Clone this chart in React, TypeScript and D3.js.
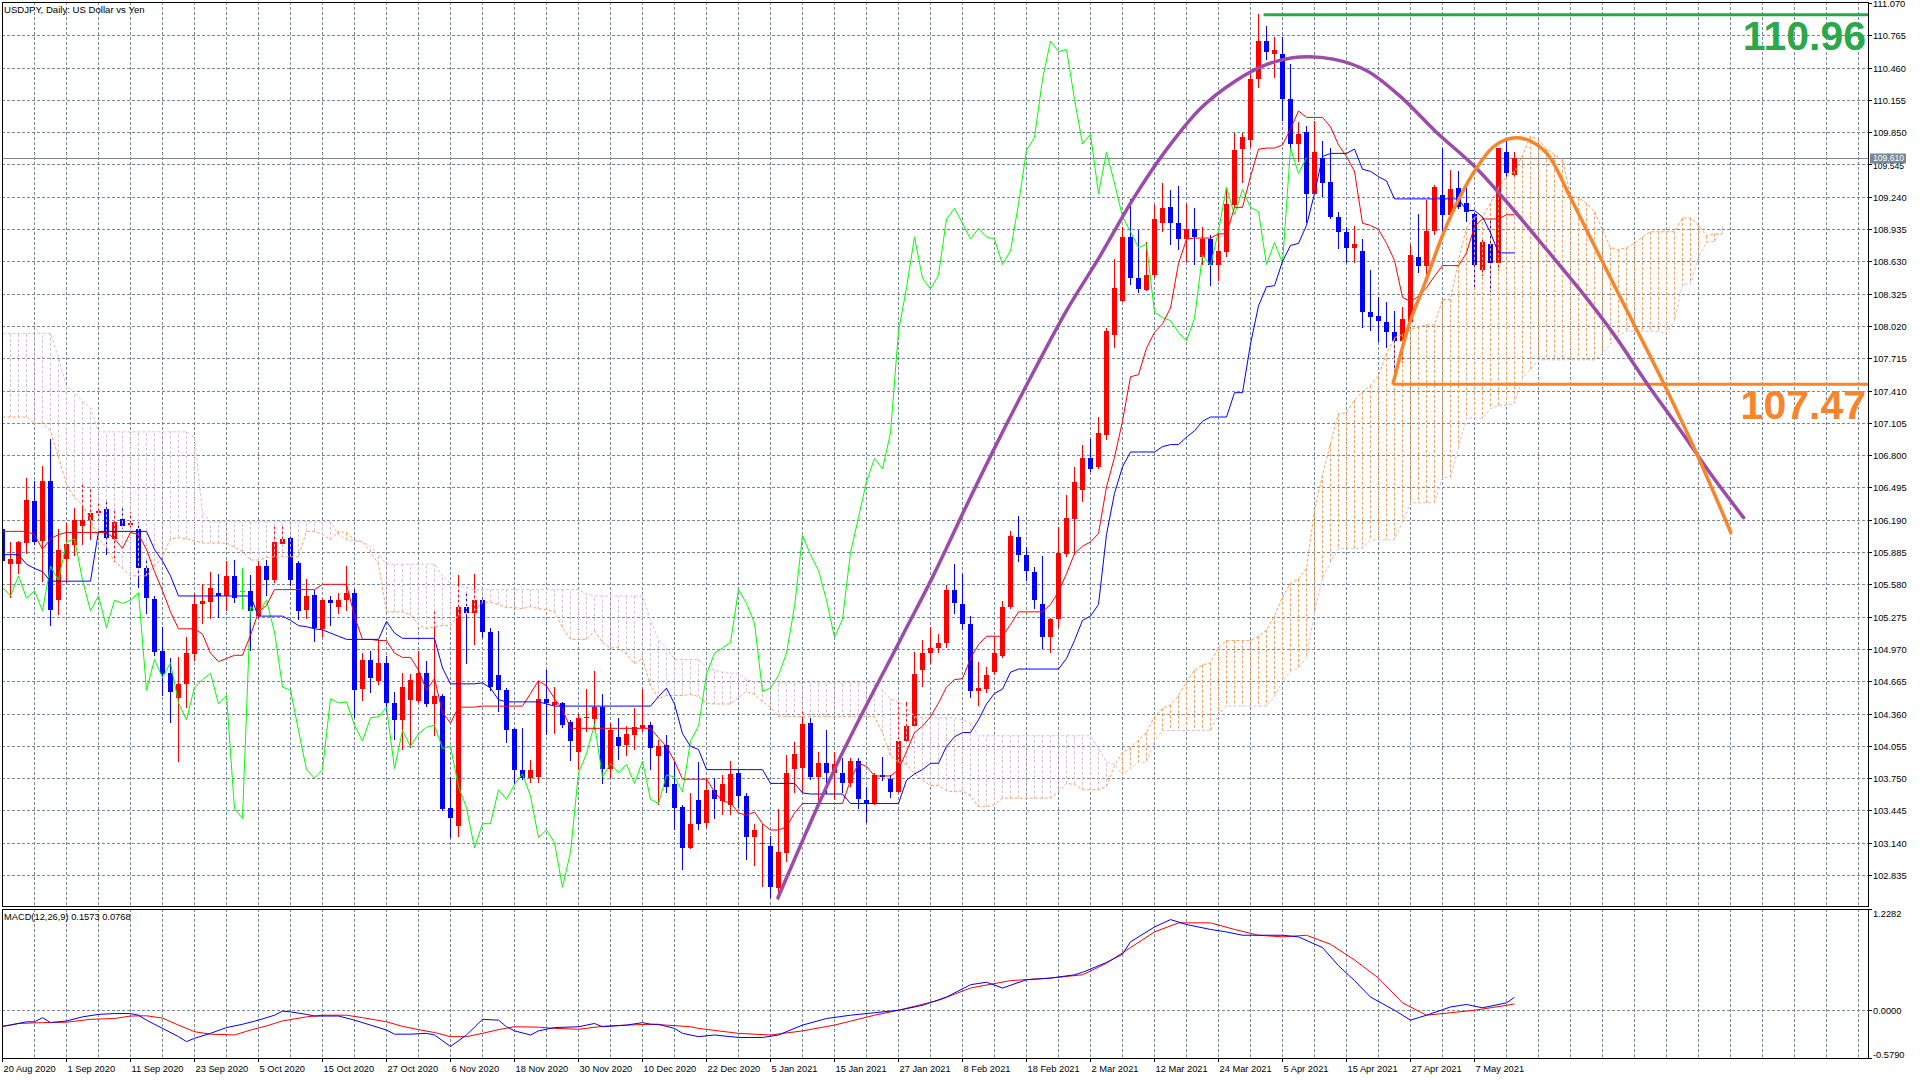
import React from 'react';
import * as d3 from 'd3';

// ---------- candles (daily USDJPY, bar 0 = 20 Aug 2020) ----------
const openP = [
  106.10,105.77,105.77,105.97,106.37,105.99,106.56,105.43,105.82,105.95,
  106.13,106.19,106.25,106.29,106.01,106.20,106.14,106.10,105.73,105.44,
  104.95,104.74,104.51,104.64,104.92,105.39,105.41,105.50,105.47,105.66,
  105.52,105.52,105.28,105.75,105.62,105.96,106.02,105.78,105.34,105.48,
  105.16,105.43,105.37,105.43,105.50,104.59,104.87,104.67,104.84,104.46,
  104.30,104.49,104.48,104.74,104.45,104.53,103.47,103.30,105.37,105.31,
  105.43,105.13,104.72,104.58,104.21,103.83,103.75,103.76,104.50,104.44,
  104.46,104.28,104.00,104.32,104.31,104.42,103.84,104.14,104.06,104.16,
  104.22,104.25,103.96,104.06,103.69,103.48,103.09,103.54,103.33,103.64,
  103.53,103.50,103.80,103.58,103.19,103.13,103.11,102.71,103.04,103.84,
  103.85,104.27,103.76,103.89,103.80,103.80,103.70,103.91,103.54,103.51,
  103.78,103.74,103.62,104.10,104.24,104.77,104.93,104.98,105.03,105.53,
  105.39,105.21,104.57,104.59,104.75,104.90,105.37,106.03,105.86,105.70,
  105.39,105.08,105.25,105.87,106.20,106.47,106.77,106.69,106.99,107.93,
  108.26,108.86,108.47,108.36,108.50,108.99,109.14,108.99,108.84,108.94,
  108.67,108.84,108.60,108.72,109.16,109.69,109.78,110.35,110.71,110.59,
  110.59,110.16,109.74,109.85,109.27,109.61,109.38,109.05,108.91,108.76,
  108.73,108.15,108.11,108.06,107.96,107.88,108.06,108.67,108.59,108.92,
  109.26,109.07,109.32,109.18,109.08,108.55,108.79,108.61,109.66,109.45,
];
const highP = [
  106.17,105.98,105.99,106.58,106.56,106.70,106.95,106.10,106.16,106.30,
  106.53,106.49,106.36,106.39,106.27,106.31,106.26,106.17,105.82,105.47,
  105.18,104.88,104.89,105.08,105.49,105.58,105.70,105.68,105.80,105.81,
  105.73,105.67,105.80,105.81,106.14,106.14,106.05,105.80,105.63,105.53,
  105.44,105.47,105.50,105.75,105.54,104.93,104.95,105.05,104.90,104.56,
  104.74,104.73,104.95,104.86,105.33,104.54,103.76,105.67,105.51,105.68,
  105.45,105.17,105.14,104.60,104.22,104.22,103.92,104.66,104.77,104.61,
  104.47,104.30,104.36,104.59,104.76,104.54,104.27,104.32,104.24,104.41,
  104.59,104.28,104.11,104.16,103.91,103.50,103.61,103.90,103.75,103.75,
  103.78,103.91,103.83,103.61,103.32,103.32,103.20,103.46,103.97,104.09,
  104.39,104.32,104.00,104.20,104.00,103.94,103.94,103.94,103.67,103.80,
  103.95,103.78,104.47,104.47,104.94,105.05,105.18,105.11,105.57,105.77,
  105.68,105.28,104.85,104.80,105.09,105.42,106.08,106.23,105.93,105.74,
  105.85,105.26,106.12,106.42,106.69,106.90,106.95,107.16,108.00,108.65,
  108.95,109.22,108.93,108.81,109.16,109.37,109.30,109.34,109.17,109.13,
  108.95,108.88,108.89,109.32,109.84,109.84,110.41,110.97,110.85,110.75,
  110.75,110.49,109.95,109.91,109.96,109.77,109.70,109.10,108.95,108.96,
  108.84,108.55,108.29,108.25,108.16,108.20,108.78,109.08,109.21,109.35,
  109.70,109.49,109.48,109.34,109.09,108.83,109.02,109.70,109.79,109.66,
];
const lowP = [
  105.74,105.45,105.68,105.87,105.95,105.60,105.19,105.29,105.59,105.85,
  105.95,106.00,106.19,105.86,105.79,106.10,106.12,105.55,105.30,104.90,
  104.53,104.27,103.90,104.41,104.86,105.21,105.25,105.26,105.33,105.40,
  105.35,104.95,105.26,105.47,105.59,105.93,105.56,105.24,105.25,105.04,
  105.08,105.19,105.30,105.33,104.32,104.48,104.55,104.63,104.37,104.11,
  104.02,104.03,104.46,104.42,104.15,103.44,103.18,103.19,104.83,105.01,
  105.07,104.57,104.37,104.08,103.69,103.73,103.70,103.70,104.16,104.17,
  104.22,103.91,103.83,104.19,104.20,103.69,103.75,103.92,103.96,104.02,
  104.19,103.83,103.50,103.61,103.26,102.88,103.08,103.26,103.28,103.36,
  103.40,103.40,103.47,102.98,102.92,102.72,102.62,102.60,102.96,103.61,
  103.61,103.73,103.53,103.60,103.54,103.61,103.67,103.46,103.33,103.50,
  103.72,103.56,103.61,104.09,104.24,104.61,104.83,104.93,104.98,105.30,
  105.15,104.51,104.43,104.55,104.72,104.88,105.35,105.79,105.61,105.35,
  104.97,104.93,105.17,105.84,105.86,106.36,106.64,106.67,106.94,107.81,
  108.25,108.41,108.33,108.35,108.47,108.91,108.78,108.74,108.62,108.60,
  108.60,108.40,108.44,108.67,109.14,109.37,109.71,110.27,110.53,110.36,
  109.96,109.69,109.57,108.99,109.27,109.24,109.03,108.75,108.61,108.61,
  108.00,107.97,107.87,107.81,107.47,107.67,108.05,108.52,108.45,108.88,
  108.90,109.04,109.12,109.00,108.36,108.49,108.34,108.54,109.41,109.42,
];
const closeP = [
  105.80,105.82,105.98,106.38,105.98,106.56,105.34,105.90,105.96,106.19,
  106.19,106.25,106.27,106.02,106.17,106.13,106.16,105.73,105.45,104.94,
  104.73,104.56,104.64,104.93,105.39,105.42,105.55,105.47,105.66,105.45,
  105.52,105.33,105.75,105.62,105.98,106.01,105.62,105.33,105.47,105.17,
  105.43,105.40,105.43,105.50,104.58,104.87,104.70,104.84,104.46,104.30,
  104.61,104.68,104.74,104.45,104.53,103.46,103.37,105.37,105.31,105.43,
  105.13,104.61,104.58,104.20,103.83,103.75,103.83,104.50,104.46,104.47,
  104.25,104.10,104.32,104.33,104.42,103.84,104.20,104.05,104.17,104.23,
  104.25,104.03,104.05,103.67,103.47,103.09,103.32,103.32,103.64,103.55,
  103.69,103.79,103.58,103.19,103.26,103.14,102.72,103.05,103.80,103.98,
  104.26,103.76,103.89,103.80,103.88,103.70,103.91,103.55,103.51,103.78,
  103.76,103.62,104.10,104.24,104.73,104.93,104.98,105.03,105.53,105.40,
  105.21,104.57,104.60,104.72,104.93,105.37,106.04,105.86,105.71,105.43,
  105.08,105.25,105.88,106.21,106.55,106.77,106.67,107.01,107.97,108.38,
  108.86,108.47,108.37,108.50,109.03,109.13,108.99,108.84,108.94,108.86,
  108.84,108.60,108.73,109.17,109.68,109.80,110.35,110.71,110.61,110.63,
  110.16,109.74,109.83,109.27,109.66,109.37,109.05,108.91,108.76,108.79,
  108.15,108.10,108.07,107.96,107.88,108.09,108.69,108.59,108.92,109.33,
  109.07,109.31,109.14,109.10,108.60,108.81,108.61,109.70,109.46,109.61,
];

// ---------- Ichimoku lines ----------
const tenkan = [
  106.08,106.08,106.08,106.08,106.05,105.91,106.01,106.05,106.07,106.07,
  106.07,106.07,106.07,106.07,106.01,105.92,106.07,106.05,105.91,105.70,
  105.52,105.32,105.16,105.16,105.16,105.11,104.93,104.85,104.88,104.91,
  104.91,105.10,105.32,105.38,105.53,105.53,105.53,105.53,105.53,105.53,
  105.58,105.58,105.58,105.58,105.28,105.06,105.06,105.05,105.05,104.93,
  104.89,104.89,104.77,104.58,104.69,104.37,104.27,104.42,104.42,104.42,
  104.43,104.43,104.43,104.43,104.43,104.43,104.55,104.67,104.62,104.50,
  104.40,104.22,104.22,104.22,104.22,104.22,104.22,104.22,104.22,104.22,
  104.22,104.22,104.13,104.05,103.91,103.74,103.74,103.74,103.74,103.62,
  103.53,103.52,103.42,103.40,103.43,103.32,103.26,103.26,103.29,103.42,
  103.51,103.51,103.51,103.51,103.51,103.51,103.73,103.89,103.86,103.77,
  103.77,103.77,103.83,104.00,104.18,104.24,104.33,104.46,104.61,104.68,
  104.69,104.88,105.01,105.09,105.09,105.09,105.20,105.32,105.32,105.32,
  105.32,105.39,105.51,105.68,105.87,105.94,105.98,106.06,106.50,106.78,
  107.12,107.54,107.56,107.81,107.96,108.04,108.19,108.61,108.84,108.85,
  108.85,108.85,108.89,108.89,109.14,109.14,109.43,109.69,109.70,109.70,
  109.73,109.88,110.05,109.99,109.99,109.99,109.90,109.73,109.62,109.48,
  108.99,108.97,108.93,108.80,108.64,108.29,108.25,108.30,108.38,108.49,
  108.59,108.59,108.59,108.71,108.96,109.03,109.03,109.03,109.07,109.07,
];
const kijun = [
  105.86,105.86,105.86,105.77,105.73,105.70,105.61,105.61,105.61,105.61,
  105.61,105.61,106.08,106.08,106.08,106.08,106.08,106.08,106.08,105.91,
  105.80,105.66,105.47,105.47,105.47,105.47,105.47,105.47,105.47,105.47,
  105.47,105.47,105.28,105.28,105.28,105.28,105.24,105.19,105.18,105.16,
  105.15,105.12,105.09,105.06,105.06,105.06,105.06,105.06,105.23,105.12,
  105.07,105.07,105.07,105.07,105.07,104.79,104.64,104.64,104.64,104.64,
  104.65,104.60,104.49,104.47,104.47,104.47,104.47,104.47,104.45,104.43,
  104.43,104.43,104.43,104.43,104.43,104.43,104.43,104.43,104.43,104.43,
  104.43,104.43,104.52,104.60,104.45,104.17,104.05,104.02,103.83,103.83,
  103.83,103.83,103.83,103.83,103.83,103.83,103.70,103.70,103.70,103.70,
  103.61,103.60,103.60,103.60,103.60,103.60,103.51,103.51,103.51,103.51,
  103.51,103.51,103.51,103.73,103.79,103.83,103.89,103.89,104.05,104.14,
  104.18,104.18,104.30,104.45,104.55,104.59,104.75,104.78,104.78,104.78,
  104.78,104.78,104.78,104.88,105.05,105.24,105.28,105.39,106.05,106.44,
  106.69,106.83,106.83,106.83,106.83,106.88,106.90,106.90,106.97,107.03,
  107.12,107.16,107.16,107.16,107.39,107.39,107.85,108.21,108.39,108.40,
  108.63,108.78,108.80,108.97,109.27,109.62,109.65,109.65,109.65,109.69,
  109.50,109.48,109.43,109.39,109.22,109.22,109.22,109.22,109.22,109.22,
  109.22,109.22,109.22,109.11,109.11,109.05,108.90,108.71,108.71,108.71,
];
// Senkou spans as plotted (already displaced 26 bars forward, 216 positions)
const spanA = [
  107.16,107.16,107.16,107.16,107.10,107.10,107.03,106.78,106.52,106.40,
  106.33,106.19,106.01,105.93,105.80,105.73,105.66,105.66,105.66,105.75,
  105.84,106.01,106.02,106.01,105.99,105.97,105.97,105.97,105.97,105.93,
  105.89,105.81,105.81,105.83,105.84,105.84,105.84,105.84,106.08,106.08,
  106.05,106.00,106.08,106.07,106.00,105.98,105.89,105.77,105.32,105.32,
  105.32,105.29,105.20,105.16,105.18,105.19,105.19,105.29,105.30,105.33,
  105.41,105.41,105.39,105.36,105.36,105.35,105.37,105.35,105.34,105.32,
  105.17,105.06,105.06,105.06,105.14,105.03,104.98,104.98,104.92,104.83,
  104.88,104.62,104.50,104.53,104.53,104.53,104.54,104.52,104.46,104.45,
  104.45,104.45,104.51,104.57,104.54,104.47,104.42,104.33,104.33,104.33,
  104.33,104.33,104.33,104.33,104.33,104.33,104.33,104.33,104.33,104.33,
  104.18,103.96,103.90,103.88,103.79,103.73,103.68,103.68,103.63,103.62,
  103.63,103.58,103.48,103.48,103.50,103.56,103.56,103.56,103.56,103.56,
  103.56,103.56,103.62,103.70,103.69,103.64,103.64,103.64,103.67,103.87,
  103.99,104.04,104.11,104.18,104.33,104.41,104.44,104.53,104.66,104.77,
  104.82,104.84,104.98,105.05,105.05,105.05,105.05,105.09,105.15,105.28,
  105.46,105.59,105.63,105.73,106.28,106.61,106.91,107.19,107.20,107.32,
  107.40,107.46,107.55,107.76,107.91,107.94,107.99,108.01,108.03,108.03,
  108.27,108.27,108.64,108.95,109.05,109.05,109.18,109.33,109.43,109.48,
  109.63,109.81,109.78,109.69,109.64,109.59,109.25,109.23,109.18,109.10,
  108.93,108.76,108.74,108.76,108.80,108.86,108.91,108.91,108.91,108.91,
  109.04,109.04,108.97,108.87,108.89,108.89,
];
const spanB = [
  107.95,107.95,107.95,107.95,107.95,107.95,107.95,107.72,107.45,107.39,
  107.31,107.25,107.02,107.02,107.02,107.02,107.02,107.02,107.02,107.02,
  107.02,107.02,107.02,107.02,106.97,106.26,106.17,106.17,106.17,106.17,
  106.17,106.17,106.17,106.17,106.17,106.17,106.17,106.17,106.17,106.17,
  106.17,106.17,106.05,106.00,105.99,105.98,105.94,105.86,105.77,105.77,
  105.77,105.77,105.77,105.77,105.77,105.66,105.59,105.56,105.55,105.53,
  105.53,105.53,105.53,105.53,105.53,105.53,105.53,105.53,105.53,105.53,
  105.53,105.53,105.53,105.49,105.47,105.47,105.47,105.47,105.47,105.47,
  105.47,105.24,105.06,104.98,104.87,104.87,104.87,104.87,104.80,104.77,
  104.75,104.74,104.74,104.68,104.66,104.65,104.65,104.65,104.65,104.65,
  104.65,104.65,104.65,104.65,104.65,104.65,104.65,104.65,104.65,104.65,
  104.58,104.50,104.47,104.43,104.33,104.32,104.32,104.32,104.32,104.32,
  104.30,104.27,104.15,104.15,104.15,104.15,104.15,104.15,104.15,104.15,
  104.15,104.15,104.15,104.15,104.15,104.15,104.15,104.03,103.90,103.88,
  103.78,103.84,103.90,103.90,104.10,104.20,104.20,104.20,104.20,104.20,
  104.20,104.20,104.35,104.43,104.43,104.43,104.43,104.43,104.43,104.52,
  104.66,104.76,104.79,104.89,105.31,105.64,105.79,105.92,105.92,105.92,
  105.92,106.00,106.00,106.00,106.00,106.17,106.35,106.35,106.35,106.35,
  106.59,106.59,106.87,107.15,107.15,107.15,107.24,107.27,107.27,107.29,
  107.53,107.61,107.70,107.70,107.70,107.70,107.70,107.70,107.70,107.70,
  107.76,107.85,107.93,107.97,107.97,107.97,107.97,107.97,107.95,108.07,
  108.41,108.42,108.67,108.81,108.82,108.96,
];
const CHIKOU_SHIFT = 26;

// ---------- MACD (12,26,9) read points ----------
const macdBars = [0,1,3,4,5,6,8,10,12,14,16,17,18,20,22,23,24,26,28,30,32,34,35,36,38,39,42,44,46,48,49,51,53,54,56,58,60,62,63,64,66,67,69,72,74,75,78,80,81,82,84,85,87,89,92,95,97,100,103,106,109,112,115,118,121,123,125,128,131,134,135,138,140,141,144,146,148,151,153,155,158,160,162,165,167,169,171,174,176,178,181,183,185,188,189];
const macdValues = [-0.195,-0.18,-0.14,-0.14,-0.09,-0.15,-0.13,-0.08,-0.05,-0.04,-0.04,-0.06,-0.12,-0.22,-0.32,-0.38,-0.34,-0.28,-0.21,-0.17,-0.12,-0.06,-0.01,-0.02,-0.05,-0.07,-0.07,-0.12,-0.18,-0.24,-0.29,-0.29,-0.28,-0.30,-0.44,-0.30,-0.11,-0.12,-0.20,-0.25,-0.30,-0.25,-0.21,-0.20,-0.16,-0.20,-0.18,-0.15,-0.17,-0.17,-0.22,-0.28,-0.32,-0.30,-0.33,-0.33,-0.30,-0.18,-0.10,-0.06,-0.03,0.0,0.06,0.16,0.31,0.34,0.27,0.37,0.39,0.43,0.46,0.58,0.68,0.83,1.01,1.10,1.04,0.98,0.95,0.91,0.91,0.91,0.89,0.76,0.54,0.36,0.16,0.0,-0.12,-0.06,0.04,0.07,0.03,0.09,0.157];
const signalBars = [0,2,5,8,11,14,16,18,20,22,24,26,29,31,33,35,38,40,43,45,48,50,52,54,56,58,60,62,64,67,69,72,75,78,81,83,86,87,92,96,100,104,109,112,117,121,126,131,135,138,141,144,147,151,154,157,160,163,166,169,172,175,178,181,184,188,189];
const signalValues = [-0.195,-0.16,-0.15,-0.145,-0.11,-0.10,-0.07,-0.067,-0.095,-0.18,-0.26,-0.29,-0.30,-0.24,-0.19,-0.13,-0.08,-0.06,-0.06,-0.09,-0.14,-0.195,-0.235,-0.27,-0.32,-0.32,-0.28,-0.235,-0.20,-0.205,-0.22,-0.23,-0.195,-0.18,-0.17,-0.18,-0.20,-0.22,-0.28,-0.30,-0.25,-0.18,-0.06,0.0,0.12,0.27,0.36,0.39,0.43,0.57,0.76,0.95,1.06,1.06,0.98,0.91,0.89,0.91,0.80,0.61,0.39,0.09,-0.06,-0.03,0.0,0.06,0.077];

// ---------- drawn objects (bar index, price) ----------
const purpleArcBars = [97.0,104.3,112.25,116.4,120.6,124.75,128.9,133.1,137.25,141.4,145.6,149.75,153.9,158.1,162.25,166.4,170.6,174.75,179.3,184.3,188.9,193.1,197.25,201.4,205.6,209.75,213.8,217.7];
const purpleArcPrices = [102.62,103.87,105.05,105.66,106.33,106.97,107.58,108.17,108.68,109.22,109.69,110.07,110.32,110.49,110.56,110.54,110.43,110.19,109.85,109.51,109.12,108.74,108.36,107.95,107.48,107.04,106.60,106.21];
const orangeArcBars = [173.9,176,177.7,180.2,182.25,184.3,186.4,188.5,190.6,193.1,196,199.3,203.5,207.7,211.8,216.1];
const orangeArcPrices = [107.48,108.06,108.39,108.90,109.24,109.51,109.71,109.79,109.78,109.65,109.24,108.74,108.11,107.48,106.82,106.07];
const resistanceLevel = 110.96;
const resistanceStartBar = 157.7;
const supportLevel = 107.47;
const supportStartBar = 173.9;
const currentPrice = 109.61;

// ---------- axis labels ----------
const priceTicks = ['111.070','110.765','110.460','110.155','109.850','109.545','109.240','108.935','108.630','108.325','108.020','107.715','107.410','107.105','106.800','106.495','106.190','105.885','105.580','105.275','104.970','104.665','104.360','104.055','103.750','103.445','103.140','102.835'];
const dateLabels = ['20 Aug 2020','1 Sep 2020','11 Sep 2020','23 Sep 2020','5 Oct 2020','15 Oct 2020','27 Oct 2020','6 Nov 2020','18 Nov 2020','30 Nov 2020','10 Dec 2020','22 Dec 2020','5 Jan 2021','15 Jan 2021','27 Jan 2021','8 Feb 2021','18 Feb 2021','2 Mar 2021','12 Mar 2021','24 Mar 2021','5 Apr 2021','15 Apr 2021','27 Apr 2021','7 May 2021'];
const dateLabelBars = [0,8,16,24,32,40,48,56,64,72,80,88,96,104,112,120,128,136,144,152,160,168,176,184];
const macdTicks = ['1.2282','0.0000','-0.5790'];

const FONT = '"Liberation Sans", Arial, Helvetica, sans-serif';
const GRID = '#778899';

export default function App() {
  const L = 2, R = 1868, MT = 2, MB = 906, CT = 909, CB = 1058;
  const x = d3.scaleLinear().domain([0, 1]).range([2, 10]);
  const y = d3.scaleLinear().domain([102.835, 111.07]).range([875, 3]);
  const ym = d3.scaleLinear().domain([-0.579, 1.2282]).range([CB, CT]);

  const gridXs = d3.range(L + 32, R, 32);
  const lineOf = (vals: number[]) =>
    d3.line<number>().x((_, i) => x(i) + 0.5).y((d) => y(d))(vals) || '';
  const chikouPath =
    d3.line<number>().x((_, i) => x(i) + 0.5).y((d) => y(d))(closeP.slice(CHIKOU_SHIFT)) || '';
  const macdPath =
    d3.line<number>().x((_, k) => x(macdBars[k]) + 0.5).y((d) => ym(d))(macdValues) || '';
  const signalPath =
    d3.line<number>().x((_, k) => x(signalBars[k]) + 0.5).y((d) => ym(d))(signalValues) || '';
  const purplePath =
    d3.line<number>().curve(d3.curveCatmullRom.alpha(0.5)).x((_, k) => x(purpleArcBars[k])).y((d) => y(d))(purpleArcPrices) || '';
  const orangePath =
    d3.line<number>().curve(d3.curveCatmullRom.alpha(0.5)).x((_, k) => x(orangeArcBars[k])).y((d) => y(d))(orangeArcPrices) || '';

  const curY = Math.round(y(currentPrice)) + 0.5;

  return (
    <svg
      width={1920}
      height={1080}
      viewBox="0 0 1920 1080"
      style={{ position: 'absolute', left: 0, top: 0, background: '#ffffff', fontFamily: FONT }}
    >
      <defs>
        <clipPath id="mainClip">
          <rect x={L} y={MT} width={R - L} height={MB - MT} />
        </clipPath>
        <clipPath id="macdClip">
          <rect x={L} y={CT} width={R - L} height={CB - CT} />
        </clipPath>
      </defs>
      <rect x={0} y={0} width={1920} height={1080} fill="#ffffff" />

      {/* grid */}
      <g stroke={GRID} strokeWidth={1} strokeDasharray="3,2" shapeRendering="crispEdges">
        {gridXs.map((gx) => (
          <line key={'vm' + gx} x1={gx + 0.5} x2={gx + 0.5} y1={MT} y2={MB} />
        ))}
        {priceTicks.slice(1).map((t) => {
          const yy = Math.round(y(+t)) + 0.5;
          return <line key={'hm' + t} x1={L} x2={R} y1={yy} y2={yy} />;
        })}
        {gridXs.map((gx) => (
          <line key={'vc' + gx} x1={gx + 0.5} x2={gx + 0.5} y1={CT} y2={CB} />
        ))}
        <line x1={L} x2={R} y1={Math.round(ym(0)) + 0.5} y2={Math.round(ym(0)) + 0.5} />
      </g>

      <g clipPath="url(#mainClip)">
        {/* current price line */}
        <line x1={L} x2={R} y1={curY} y2={curY} stroke={GRID} strokeWidth={1} shapeRendering="crispEdges" />

        {/* candles */}
        <g shapeRendering="crispEdges">
          {openP.map((o, i) => {
            const c = closeP[i];
            const col = c > o ? '#ff0000' : c < o ? '#0000ff' : '#00ff00';
            const cx = x(i);
            const top = y(Math.max(o, c));
            const bot = y(Math.min(o, c));
            return (
              <g key={'c' + i}>
                <line x1={cx + 0.5} x2={cx + 0.5} y1={y(highP[i])} y2={y(lowP[i])} stroke={col} strokeWidth={1} />
                {c === o ? (
                  <line x1={cx - 2} x2={cx + 3} y1={Math.round(top) + 0.5} y2={Math.round(top) + 0.5} stroke={col} strokeWidth={1} />
                ) : (
                  <rect x={cx - 2} y={top} width={5} height={Math.max(1, bot - top)} fill={col} />
                )}
              </g>
            );
          })}
        </g>

        {/* cloud hatching */}
        <g strokeWidth={1} strokeDasharray="3,2">
          {spanA.map((a, j) => {
            const b = spanB[j];
            if (a === b) return null;
            return (
              <line
                key={'h' + j}
                x1={x(j) + 0.5}
                x2={x(j) + 0.5}
                y1={y(a)}
                y2={y(b)}
                stroke={a > b ? '#f4a460' : '#d8bfd8'}
              />
            );
          })}
        </g>
        <path d={lineOf(spanA)} fill="none" stroke="#f4a460" strokeWidth={1} strokeDasharray="3,2" />
        <path d={lineOf(spanB)} fill="none" stroke="#d8bfd8" strokeWidth={1} strokeDasharray="3,2" />

        {/* Ichimoku lines */}
        <path d={chikouPath} fill="none" stroke="#00ff00" strokeWidth={1} />
        <path d={lineOf(tenkan)} fill="none" stroke="#ff0000" strokeWidth={1} />
        <path d={lineOf(kijun)} fill="none" stroke="#0000ff" strokeWidth={1} />

        {/* drawn objects */}
        <line x1={x(resistanceStartBar)} x2={R} y1={y(resistanceLevel)} y2={y(resistanceLevel)} stroke="#2aa84a" strokeWidth={3} />
        <line x1={x(supportStartBar)} x2={R} y1={y(supportLevel)} y2={y(supportLevel)} stroke="#f6852c" strokeWidth={3} />
        <path d={purplePath} fill="none" stroke="#9a4ca8" strokeWidth={3.5} strokeLinecap="round" />
        <path d={orangePath} fill="none" stroke="#f6852c" strokeWidth={3.5} strokeLinecap="round" />

        <text x={1866} y={y(resistanceLevel) + 35} textAnchor="end" fontSize={41} fontWeight="bold" fill="#2aa84a">
          {resistanceLevel.toFixed(2)}
        </text>
        <text x={1866} y={y(supportLevel) + 35} textAnchor="end" fontSize={41} fontWeight="bold" fill="#f6852c">
          {supportLevel.toFixed(2)}
        </text>
      </g>

      {/* MACD panel */}
      <g clipPath="url(#macdClip)">
        <path d={signalPath} fill="none" stroke="#ff0000" strokeWidth={1} />
        <path d={macdPath} fill="none" stroke="#0000ff" strokeWidth={1} />
      </g>

      {/* frames */}
      <g stroke="#000000" strokeWidth={1} fill="none" shapeRendering="crispEdges">
        <rect x={L + 0.5} y={MT + 0.5} width={R - L} height={MB - MT} />
        <rect x={L + 0.5} y={CT + 0.5} width={R - L} height={CB - CT} />
      </g>

      {/* titles */}
      <text x={4} y={13} fontSize={9.6} fill="#000">USDJPY, Daily:  US Dollar vs Yen</text>
      <text x={4} y={920} fontSize={9.3} fill="#000">MACD(12,26,9) 0.1573 0.0768</text>

      {/* price axis */}
      <g fontSize={9.3} fill="#000">
        {priceTicks.map((t) => {
          const yy = Math.round(y(+t)) + 0.5;
          const near = Math.abs(yy - curY) < 10;
          return (
            <g key={'pt' + t}>
              <line x1={R} x2={R + 4} y1={yy} y2={yy} stroke="#000" shapeRendering="crispEdges" />
              <text x={R + 5} y={yy + (near ? 4.4 : 3.4)} fontSize={near ? 8.6 : 9.3}>{t}</text>
            </g>
          );
        })}
      </g>
      <rect x={R + 2} y={curY - 5} width={36} height={10} fill="#778899" />
      <text x={R + 5} y={curY + 2.8} fontSize={8.6} fill="#ffffff">{currentPrice.toFixed(3)}</text>

      {/* MACD axis */}
      <g fontSize={9.3} fill="#000">
        {macdTicks.map((t, k) => {
          const yy = Math.round(ym(+t)) + 0.5;
          const ty = k === 0 ? yy + 7 : k === 2 ? yy - 1 : yy + 3.4;
          return (
            <g key={'mt' + t}>
              <line x1={R} x2={R + 4} y1={yy} y2={yy} stroke="#000" shapeRendering="crispEdges" />
              <text x={R + 5} y={ty}>{t}</text>
            </g>
          );
        })}
      </g>

      {/* time axis */}
      <g fontSize={9.3} fill="#000">
        {dateLabels.map((lab, k) => {
          const xx = Math.round(x(dateLabelBars[k])) + 0.5;
          return (
            <g key={'dl' + k}>
              <line x1={xx} x2={xx} y1={CB} y2={CB + 4} stroke="#000" shapeRendering="crispEdges" />
              <text x={xx + 1} y={1072}>{lab}</text>
            </g>
          );
        })}
      </g>
    </svg>
  );
}
